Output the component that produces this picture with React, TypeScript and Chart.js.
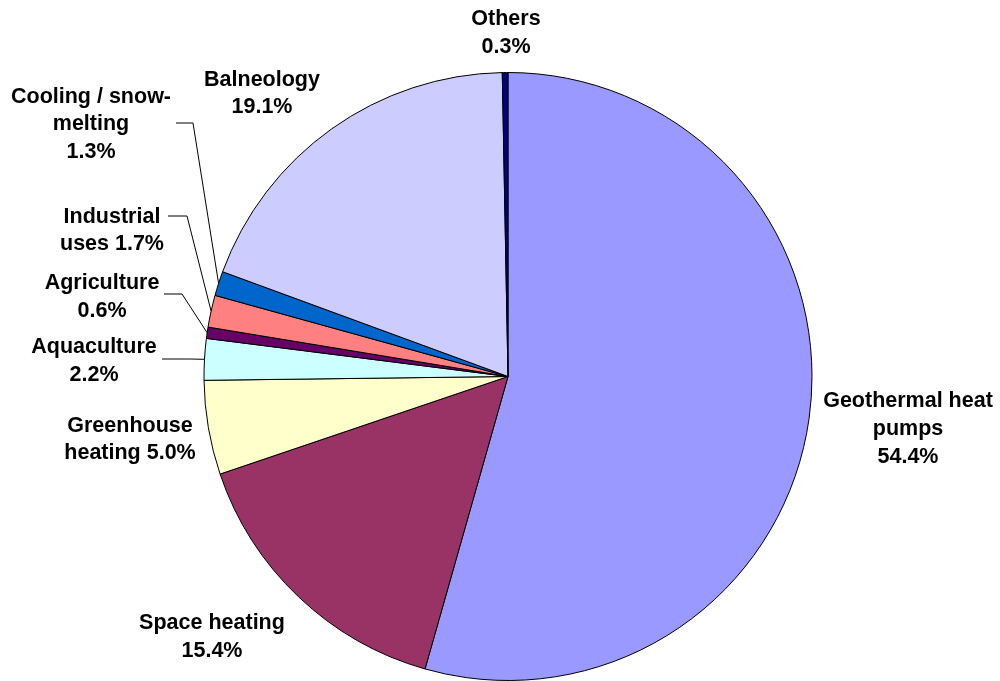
import React, { useEffect, useRef } from "react";
import { Chart, registerables } from "chart.js";

Chart.register(...registerables);

const CATEGORIES = [
  "Geothermal heat pumps",
  "Space heating",
  "Greenhouse heating",
  "Aquaculture",
  "Agriculture",
  "Industrial uses",
  "Cooling / snow-melting",
  "Balneology",
  "Others",
];
const VALUES = [54.4, 15.4, 5.0, 2.2, 0.6, 1.7, 1.3, 19.1, 0.3];
const COLORS = [
  "#9999FF",
  "#993366",
  "#FFFFCC",
  "#CCFFFF",
  "#660066",
  "#FF8080",
  "#0066CC",
  "#CCCCFF",
  "#000080",
];
const LABEL_LINES = [
  ["Geothermal heat", "pumps", "54.4%"],
  ["Space heating", "15.4%"],
  ["Greenhouse", "heating 5.0%"],
  ["Aquaculture", "2.2%"],
  ["Agriculture", "0.6%"],
  ["Industrial", "uses 1.7%"],
  ["Cooling / snow-", "melting", "1.3%"],
  ["Balneology", "19.1%"],
  ["Others", "0.3%"],
];

// label layout: x centre, y of first line's cap-centre; optional leader (start x, y, elbow x)
const LABEL_LAYOUT: { x: number; y: number; leader?: [number, number, number] }[] = [
  { x: 908, y: 399.5 },
  { x: 212, y: 621.5 },
  { x: 130, y: 424 },
  { x: 94, y: 345.5, leader: [162, 359, 190] },
  { x: 102, y: 281.5, leader: [164, 294, 182] },
  { x: 112, y: 215, leader: [168, 216, 187] },
  { x: 91, y: 95, leader: [176, 123, 193] },
  { x: 262, y: 78 },
  { x: 506, y: 17.5 },
];

const FONT_SIZE = 21.5;
const LINE_HEIGHT = 27.7;

const labelPlugin = {
  id: "pieLabels",
  afterDraw(chart: any) {
    const ctx = chart.ctx;
    const meta = chart.getDatasetMeta(0);
    ctx.save();
    ctx.font = `bold ${FONT_SIZE}px "Liberation Sans", Arial, sans-serif`;
    ctx.fillStyle = "#000";
    ctx.textAlign = "center";
    ctx.textBaseline = "alphabetic";
    const capHalf = FONT_SIZE * 0.716 * 0.5;
    meta.data.forEach((arc: any, i: number) => {
      const lay = LABEL_LAYOUT[i];
      const lines = LABEL_LINES[i];
      lines.forEach((t, k) => {
        ctx.fillText(t, lay.x, lay.y + k * LINE_HEIGHT + capHalf);
      });
      if (lay.leader) {
        const { x, y, startAngle, endAngle, outerRadius } = arc.getProps(
          ["x", "y", "startAngle", "endAngle", "outerRadius"],
          true
        );
        const mid = (startAngle + endAngle) / 2;
        const ex = x + Math.cos(mid) * outerRadius;
        const ey = y + Math.sin(mid) * outerRadius;
        const [sx, sy, elx] = lay.leader;
        ctx.beginPath();
        ctx.strokeStyle = "#000";
        ctx.lineWidth = 1;
        ctx.moveTo(sx, sy);
        ctx.lineTo(elx, sy);
        ctx.lineTo(ex, ey);
        ctx.stroke();
      }
    });
    ctx.restore();
  },
};

export default function App() {
  const ref = useRef<HTMLCanvasElement | null>(null);
  useEffect(() => {
    if (!ref.current) return;
    const chart = new Chart(ref.current, {
      type: "pie",
      data: {
        labels: CATEGORIES,
        datasets: [
          {
            data: VALUES,
            backgroundColor: COLORS,
            borderColor: "#000",
            borderWidth: 1,
          },
        ],
      },
      options: {
        animation: false,
        responsive: true,
        maintainAspectRatio: false,
        layout: { padding: { top: 72, bottom: 0, left: 16, right: 0 } },
        plugins: {
          legend: { display: false },
          tooltip: { enabled: false },
        },
      },
      plugins: [labelPlugin],
    });
    return () => chart.destroy();
  }, []);
  return (
    <div
      style={{
        position: "absolute",
        left: 0,
        top: 0,
        width: 1000,
        height: 681,
        background: "#fff",
      }}
    >
      <canvas ref={ref} />
    </div>
  );
}
